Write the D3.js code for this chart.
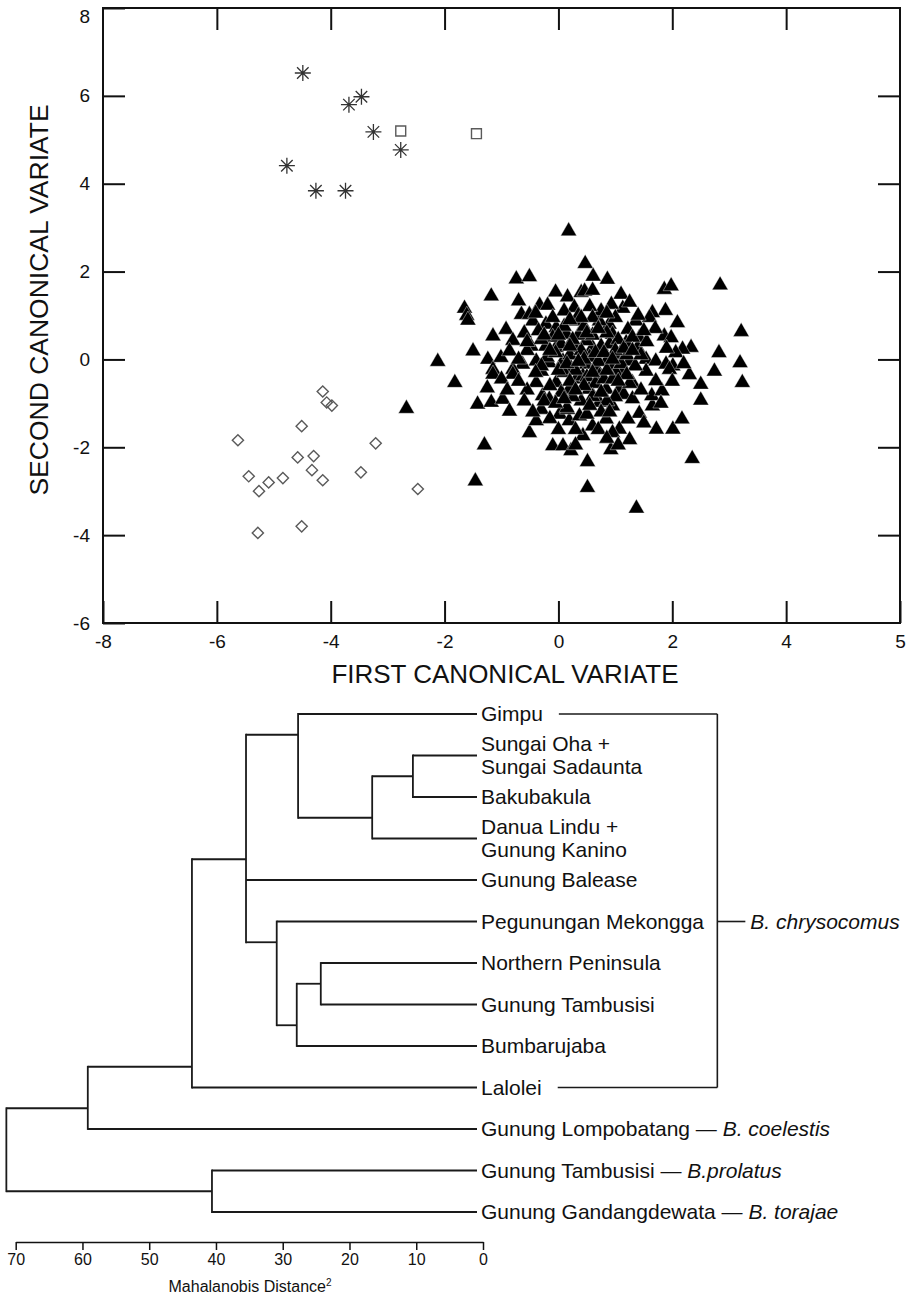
<!DOCTYPE html>
<html>
<head>
<meta charset="utf-8">
<script src="https://cdn.jsdelivr.net/npm/d3@7"></script>
<style>
  html, body { margin: 0; padding: 0; background: #fff; }
  svg { display: block; font-family: "Liberation Sans", Arial, Helvetica, sans-serif; }
</style>
</head>
<body>
<svg id="chart" width="909" height="1297"></svg>
<script>
// ---------------- DATA: canonical variate scatter ----------------
const xTickValues = [-8, -6, -4, -2, 0, 2, 4, 6];
const xTickLabels = ["-8", "-6", "-4", "-2", "0", "2", "4", "5"];
const yTickValues = [-6, -4, -2, 0, 2, 4, 6, 8];
const xAxisTitle = "FIRST CANONICAL VARIATE";
const yAxisTitle = "SECOND CANONICAL VARIATE";

const asteriskPoints = [[-4.49,6.52],[-3.46,5.98],[-3.68,5.80],[-3.25,5.18],[-2.77,4.77],[-4.77,4.41],[-4.26,3.84],[-3.74,3.84]];
const squarePoints = [[-2.77,5.20],[-1.44,5.14]];
const diamondPoints = [[-5.63,-1.84],[-4.51,-1.52],[-4.14,-0.73],[-4.07,-0.98],[-3.98,-1.05],[-3.21,-1.91],
  [-4.58,-2.23],[-4.30,-2.20],[-4.33,-2.52],[-4.14,-2.75],[-3.47,-2.57],[-5.44,-2.66],[-4.84,-2.70],
  [-5.09,-2.80],[-5.26,-3.00],[-2.47,-2.95],[-4.51,-3.80],[-5.28,-3.95]];
const trianglePoints = [
  [0.18,2.92],[0.47,2.18],[-0.74,1.83],[-0.51,1.88],[-1.18,1.44],[-0.70,1.33],[-0.05,1.53],[0.16,1.42],
  [-0.33,1.23],[-0.19,1.23],[-1.65,1.16],[-1.61,1.0],[-1.59,0.89],[-0.65,1.02],[-0.51,1.02],[-0.45,0.87],
  [-0.22,0.80],[-0.04,0.72],[-0.92,0.68],[-1.15,0.53],[-0.80,0.43],[-1.50,0.19],[-2.12,-0.05],[-1.24,0.0],
  [-1.01,0.04],[-0.86,0.19],[-0.48,0.30],[-0.22,0.30],[-0.04,0.27],[0.31,0.27],[0.14,0.57],[0.31,0.87],
  [0.28,1.18],[0.40,1.52],[-0.63,-0.11],[-0.39,-0.04],[-0.16,-0.08],[0.08,-0.04],[-1.15,-0.23],[-0.80,-0.23],
  [-0.30,-0.27],[0.22,-0.19],
  [0.61,1.89],[0.86,1.82],[0.46,1.55],[0.60,1.57],[1.10,1.48],[1.13,1.16],[0.93,1.25],[1.86,1.59],[1.98,1.67],
  [2.84,1.69],[1.88,1.11],[1.65,1.06],[1.60,0.95],[2.09,0.83],[1.86,0.53],[1.98,0.49],[3.21,0.63],[2.33,0.27],
  [2.18,0.23],[2.06,0.15],[2.82,0.15],[3.19,-0.08],[2.74,-0.27],[1.36,0.87],[1.22,0.68],[1.42,0.49],[1.19,0.38],
  [0.89,0.80],[0.95,0.57],[0.72,0.87],[1.39,0.27],[1.54,0.0],[1.71,-0.04],[1.89,-0.11],[2.01,-0.15],[1.25,-0.04],
  [1.01,0.11],[0.84,-0.04],[0.60,0.27],[0.49,0.42],[0.95,-0.19],[1.13,-0.27],[0.66,-0.19],[0.49,-0.11],
  [-1.82,-0.53],[-1.15,-0.34],[-0.80,-0.34],[-1.42,-1.02],[-1.18,-0.98],[-0.98,-0.91],[-0.86,-1.18],[-1.30,-1.95],
  [-1.46,-2.77],[-2.67,-1.12],[-0.51,-1.67],[-0.39,-1.40],[-0.30,-1.14],[-0.28,-0.83],[-0.16,-0.91],[-0.39,-0.53],
  [-0.10,-1.97],[0.08,-1.97],[0.22,-2.08],[0.02,-1.25],[0.19,-1.40],[0.16,-1.14],[0.37,-1.29],[0.43,-1.74],
  [0.51,-2.33],[0.51,-2.92],[-0.04,-0.53],[0.19,-0.68],[0.31,-0.45],
  [1.37,-3.39],[2.35,-2.26],[0.92,-2.06],[1.25,-1.83],[1.72,-1.59],[2.01,-1.59],[2.17,-1.36],[1.42,-1.23],
  [1.65,-1.06],[1.64,-0.83],[1.82,-0.72],[1.71,-0.49],[1.54,-0.27],[1.30,-0.53],[2.50,-0.57],[2.50,-0.93],
  [3.23,-0.53],[1.22,-1.36],[1.07,-1.59],[0.95,-1.67],[0.60,-1.52],[0.84,-1.36],[0.72,-0.98],[0.95,-1.06],
  [0.54,-0.68],[0.84,-0.68],[1.07,-0.68],[0.43,-0.38],[0.72,-0.38],[1.01,-0.30],[1.95,-0.23],
  [-0.60,0.60],[-0.35,0.65],[-0.10,0.50],[0.05,0.35],[0.20,0.10],[0.35,0.55],[0.45,0.75],[0.60,0.55],
  [0.75,0.30],[0.90,0.35],[1.05,0.45],[0.55,0.05],[0.70,-0.05],[0.40,0.20],[0.25,0.45],[0.10,0.75],
  [-0.20,0.05],[-0.05,0.15],[0.10,-0.30],[0.30,-0.25],[0.50,-0.40],[0.65,-0.55],[0.80,-0.45],[0.95,-0.45],
  [1.10,-0.10],[1.20,0.10],[1.35,-0.15],[1.45,0.10],[1.15,-0.80],[1.30,-0.90],[1.45,-0.70],[1.00,-0.85],
  [0.85,-0.95],[0.60,-0.85],[0.40,-0.95],[0.25,-0.85],[0.05,-0.75],[-0.15,-0.60],[-0.55,-0.70],[-0.70,-0.50],
  [-0.60,-0.95],[-0.45,-1.20],[-0.15,-1.35],[0.00,-1.60],[0.30,-1.60],[0.50,-1.25],[0.75,-1.20],[0.70,-1.60],
  [0.85,-1.80],[1.05,-1.95],[0.30,-1.95],[1.50,-1.45],[1.25,-0.55],[1.55,0.40],[1.70,0.70],[1.40,1.00],
  [1.25,1.30],[1.00,0.95],[0.75,1.10],[0.55,1.20],[0.35,1.00],[0.10,1.10],[-0.10,0.95],[-0.30,0.45],
  [-0.55,0.20],[-0.70,0.00],[-1.00,-0.45],[-1.25,-0.65],[-0.90,-0.70],[0.60,0.95],[0.85,0.60],[1.00,0.20],
  [0.45,-0.60],[0.20,-0.50],[0.00,-0.25],[-0.30,-0.15],[1.20,-0.35],[0.90,-1.20],[0.15,-1.10],[-0.25,-0.95],
  [1.80,-1.00],[2.00,-0.50],[1.90,0.25],[2.30,-0.35],[2.20,-0.10],
  [-0.25,0.55],[0.00,0.55],[0.20,0.30],[0.45,0.00],[0.65,0.15],[0.80,0.15],[1.15,0.25],[1.30,0.50],
  [0.50,0.60],[0.70,0.70],[0.15,-0.10],[0.35,-0.05],[0.60,-0.30],[0.85,-0.25],[1.05,-0.50],[0.30,-0.70],
  [0.55,-1.05],[0.75,-0.75],[-0.05,-1.00],[0.10,-0.90],[-0.40,-0.30],[-0.55,0.40],[-0.15,0.20],[0.95,0.00],
  [1.30,0.20],[0.40,0.95],[0.20,0.90],[-0.40,1.05],[0.85,1.05],[1.50,0.65]
];

// ---------------- DATA: dendrogram ----------------
const leafIds = ["Gimpu","SungaiOha","Bakubakula","DanuaLindu","Balease","Mekongga","Northern","Tambusisi","Bumbarujaba","Lalolei","Lompobatang","TambusisiP","Gandang"];
const leafLabelLines = [["Gimpu"],["Sungai Oha +","Sungai Sadaunta"],["Bakubakula"],["Danua Lindu +","Gunung Kanino"],["Gunung Balease"],["Pegunungan Mekongga"],["Northern Peninsula"],["Gunung Tambusisi"],["Bumbarujaba"],["Lalolei"],["Gunung Lompobatang — "],["Gunung Tambusisi — "],["Gunung Gandangdewata — "]];
const leafSpecies = ["","","","","","","","","","","B. coelestis","B.prolatus","B. torajae"];
const nodeIds = ["N1","N2","N3","N4","N5","N6","N7","N8","N9","N10","Root"];
const nodeChildren = [["SungaiOha","Bakubakula"],["N1","DanuaLindu"],["Gimpu","N2"],["N3","Balease","N5"],["Mekongga","N7"],["Northern","Tambusisi"],["N6","Bumbarujaba"],["N4","Lalolei"],["N8","Lompobatang"],["TambusisiP","Gandang"],["N9","N10"]];
const nodeDistances = [10.5,16.6,27.7,35.5,30.9,24.3,27.9,43.6,59.2,40.6,71.4];
const nodeRows = [1.5,2.5,0.5,3.5,5.5,6.5,7.5,8.5,9.5,11.5,10.5];
const groupLabel = "B. chrysocomus";
const groupMembers = ["Gimpu","SungaiOha","Bakubakula","DanuaLindu","Balease","Mekongga","Northern","Tambusisi","Bumbarujaba","Lalolei"];
const distTickValues = [70,60,50,40,30,20,10,0];
const distAxisTitle = "Mahalanobis Distance";

// ---------------- DRAW ----------------
const svg = d3.select("#chart");
svg.append("rect").attr("width",909).attr("height",1297).attr("fill","#fff");

// Scatter
const P = {left:103, right:900, top:8, bottom:623};
const x = d3.scaleLinear().domain([-8, 6]).range([P.left, P.right]);
const y = d3.scaleLinear().domain([-6, 8]).range([P.bottom, P.top]);
const fmtX = d => xTickLabels[xTickValues.indexOf(d)];

const axStyle = g => {
  g.select(".domain").remove();
  g.selectAll(".tick line").attr("stroke","#111").attr("stroke-width",2);
  g.selectAll(".tick text").attr("fill","#111").attr("font-size",19).attr("font-family","Liberation Sans, Arial, sans-serif");
};
svg.append("g").attr("transform",`translate(0,${P.bottom})`)
  .call(d3.axisBottom(x).tickValues(xTickValues).tickFormat(fmtX).tickSizeInner(-22).tickSizeOuter(0).tickPadding(12))
  .call(axStyle);
svg.append("g").attr("transform",`translate(0,${P.top})`)
  .call(d3.axisTop(x).tickValues(xTickValues.slice(1,-1)).tickFormat("").tickSizeInner(-22).tickSizeOuter(0))
  .call(axStyle);
const yAx = svg.append("g").attr("transform",`translate(${P.left},0)`)
  .call(d3.axisLeft(y).tickValues(yTickValues).tickFormat(d => String(d)).tickSizeInner(-22).tickSizeOuter(0).tickPadding(13))
  .call(axStyle);
// keep the topmost label inside the picture, as in the reference
yAx.selectAll(".tick text").filter(d => d === d3.max(yTickValues)).attr("dy","0.75em");
svg.append("g").attr("transform",`translate(${P.right},0)`)
  .call(d3.axisRight(y).tickValues(yTickValues.slice(1,-1)).tickFormat("").tickSizeInner(-22).tickSizeOuter(0))
  .call(axStyle);
svg.append("rect").attr("x",P.left).attr("y",P.top).attr("width",P.right-P.left).attr("height",P.bottom-P.top)
  .attr("fill","none").attr("stroke","#111").attr("stroke-width",2);

svg.append("text").attr("x",505).attr("y",683).attr("text-anchor","middle")
  .attr("font-size",26).attr("fill","#111").text(xAxisTitle);
svg.append("text").attr("transform","translate(48,300) rotate(-90)").attr("text-anchor","middle")
  .attr("font-size",26.5).attr("fill","#111").text(yAxisTitle);

const marks = svg.append("g");
const tri = d3.symbol().type(d3.symbolTriangle).size(112);
marks.selectAll("path.tri").data(trianglePoints).join("path").attr("class","tri")
  .attr("transform",d=>`translate(${x(d[0])},${y(d[1])})`).attr("d",tri())
  .attr("fill","#000").attr("stroke","#fff").attr("stroke-width",0.4);

const dia = d3.symbol().type(d3.symbolDiamond2).size(80);
marks.selectAll("path.dia").data(diamondPoints).join("path").attr("class","dia")
  .attr("transform",d=>`translate(${x(d[0])},${y(d[1])})`).attr("d",dia())
  .attr("fill","none").attr("stroke","#5a5a5a").attr("stroke-width",1.4);

const sq = d3.symbol().type(d3.symbolSquare2).size(125);
marks.selectAll("path.sq").data(squarePoints).join("path").attr("class","sq")
  .attr("transform",d=>`translate(${x(d[0])},${y(d[1])})`).attr("d",sq())
  .attr("fill","none").attr("stroke","#5a5a5a").attr("stroke-width",1.4);

const r = 8, rd = r*0.72;
const astPath = `M0,${-r}L0,${r}M${-r},0L${r},0M${-rd},${-rd}L${rd},${rd}M${-rd},${rd}L${rd},${-rd}`;
marks.selectAll("path.ast").data(asteriskPoints).join("path").attr("class","ast")
  .attr("transform",d=>`translate(${x(d[0])},${y(d[1])})`).attr("d",astPath)
  .attr("fill","none").attr("stroke","#333").attr("stroke-width",1.3);

// Dendrogram
const dx = d3.scaleLinear().domain([70, 0]).range([15.7, 483]);
const rowY = d3.scaleLinear().domain([0, 12]).range([714, 1212]);
const leafEnd = dx(0) - 6;
const pos = {};
leafIds.forEach((id,i) => pos[id] = {x: leafEnd, y: rowY(i)});
nodeIds.forEach((id,i) => pos[id] = {x: dx(nodeDistances[i]), y: rowY(nodeRows[i])});

const dg = svg.append("g").attr("stroke","#1a1a1a").attr("stroke-width",1.8).attr("fill","none");
nodeIds.forEach((id,i) => {
  const kids = nodeChildren[i].map(k => pos[k]);
  const ys = kids.map(k => k.y);
  dg.append("line").attr("x1",pos[id].x).attr("x2",pos[id].x)
    .attr("y1",d3.min(ys)).attr("y2",d3.max(ys)).attr("stroke-linecap","square");
  kids.forEach(k => dg.append("line").attr("x1",pos[id].x).attr("x2",k.x).attr("y1",k.y).attr("y2",k.y));
});

const labelX = dx(0) - 2;
const labelEnds = {};
leafIds.forEach((id,i) => {
  const lines = leafLabelLines[i];
  const yy = rowY(i);
  const t = svg.append("text").attr("x",labelX).attr("font-size",21).attr("fill","#111");
  if (lines.length === 1) {
    t.attr("y",yy).attr("dy","0.35em").text(lines[0]);
    if (leafSpecies[i]) t.append("tspan").attr("font-style","italic").text(leafSpecies[i]);
  } else {
    t.append("tspan").attr("x",labelX).attr("y",yy-12).attr("dy","0.35em").text(lines[0]);
    t.append("tspan").attr("x",labelX).attr("y",yy+11).attr("dy","0.35em").text(lines[1]);
  }
  labelEnds[id] = t.node().getBBox().x + t.node().getBBox().width;
});

// B. chrysocomus bracket
const gFirst = groupMembers[0], gLast = groupMembers[groupMembers.length-1];
const bx = d3.max(groupMembers, m => labelEnds[m]) + 13;
const by1 = rowY(leafIds.indexOf(gFirst)), by2 = rowY(leafIds.indexOf(gLast));
const midRow = leafIds.indexOf("Mekongga");
const bg = svg.append("g").attr("stroke","#1a1a1a").attr("stroke-width",1.6);
bg.append("line").attr("x1",labelEnds[gFirst]+16).attr("x2",bx).attr("y1",by1).attr("y2",by1);
bg.append("line").attr("x1",labelEnds[gLast]+16).attr("x2",bx).attr("y1",by2).attr("y2",by2);
bg.append("line").attr("x1",bx).attr("x2",bx).attr("y1",by1).attr("y2",by2);
bg.append("line").attr("x1",bx).attr("x2",bx+28).attr("y1",rowY(midRow)).attr("y2",rowY(midRow));
svg.append("text").attr("x",bx+33).attr("y",rowY(midRow)).attr("dy","0.35em")
  .attr("font-size",21).attr("font-style","italic").attr("fill","#111").text(groupLabel);

// Distance axis
const axG = svg.append("g").attr("transform","translate(0,1242)")
  .call(d3.axisBottom(dx).tickValues(distTickValues).tickFormat(d3.format("d")).tickSizeInner(8).tickSizeOuter(0).tickPadding(4));
axG.select(".domain").attr("stroke","#111").attr("stroke-width",1.5);
axG.selectAll(".tick line").attr("stroke","#111").attr("stroke-width",1.5);
axG.selectAll(".tick text").attr("font-size",16).attr("fill","#111").attr("font-family","Liberation Sans, Arial, sans-serif");
const at = svg.append("text").attr("x",250).attr("y",1292).attr("text-anchor","middle")
  .attr("font-size",16).attr("fill","#111").text(distAxisTitle);
at.append("tspan").attr("font-size",10).attr("dy","-6").text("2");
</script>
</body>
</html>
